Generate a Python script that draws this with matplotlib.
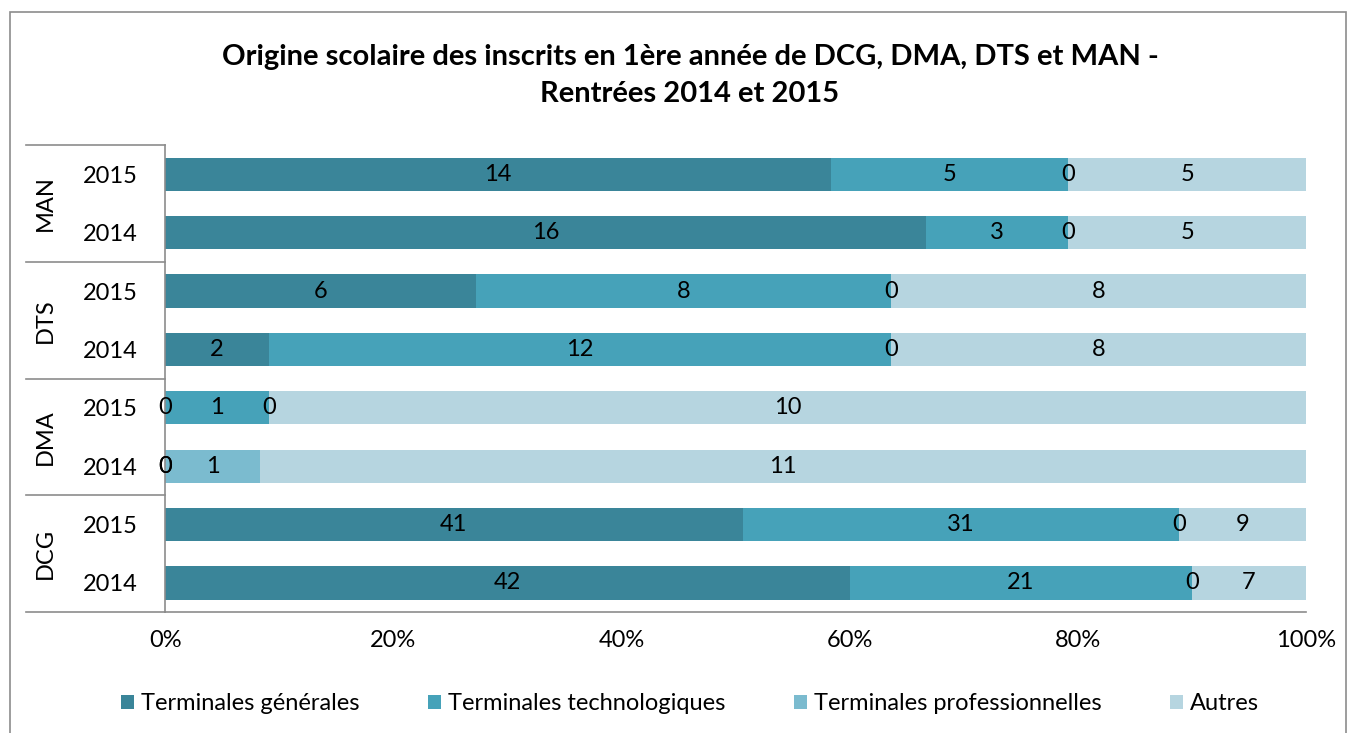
import matplotlib.pyplot as plt
from matplotlib.patches import Rectangle
import numpy as np

plt.rcParams['font.family'] = ['Lato', 'DejaVu Sans']

groups = ['DCG', 'DMA', 'DTS', 'MAN']
years = ['2014', '2015']
series = ['Terminales générales', 'Terminales technologiques',
          'Terminales professionnelles', 'Autres']
# rows: DCG 2014, DCG 2015, DMA 2014, DMA 2015, DTS 2014, DTS 2015, MAN 2014, MAN 2015
generales = [42, 41, 0, 0, 2, 6, 16, 14]
technologiques = [21, 31, 0, 1, 12, 8, 3, 5]
professionnelles = [0, 0, 1, 0, 0, 0, 0, 0]
autres = [7, 9, 11, 10, 8, 8, 5, 5]
colors = ['#3a8599', '#46a2b9', '#7bbbcf', '#b6d5e0']

fig = plt.figure(figsize=(13.53, 7.33), dpi=100)
ax = fig.add_axes([0.122, 0.165, 0.8433, 0.637])

data = np.array([generales, technologiques, professionnelles, autres], dtype=float)
totals = data.sum(axis=0)
y = np.arange(len(generales))
left = np.zeros(len(y))
for vals, name, c in zip(data, series, colors):
    frac = vals / totals
    ax.barh(y, frac, left=left, height=0.57, color=c, label=name)
    for yi, (l, f, v) in enumerate(zip(left, frac, vals)):
        ax.text(l + f / 2, yi, f'{int(v)}', ha='center', va='center',
                fontsize=17, color='black')
    left = left + frac

ax.set_xlim(0, 1)
ax.set_ylim(-0.5, len(y) - 0.5)
ax.set_xticks([0, 0.2, 0.4, 0.6, 0.8, 1.0])
ax.set_xticklabels(['0%', '20%', '40%', '60%', '80%', '100%'], fontsize=17)
ax.tick_params(axis='x', length=0, pad=13)
ax.set_yticks(y)
ax.set_yticklabels(years * len(groups), fontsize=17)
ax.tick_params(axis='y', length=0, pad=20)
for s in ['top', 'right']:
    ax.spines[s].set_visible(False)
for s in ['left', 'bottom']:
    ax.spines[s].set_color('#8c8c8c')
    ax.spines[s].set_linewidth(1.2)

# group labels and separators
for i, g in enumerate(groups):
    ax.text(-0.105, 2 * i + 0.5, g, rotation=90, ha='center', va='center',
            fontsize=17, transform=ax.get_yaxis_transform())
for k in range(len(groups) + 1):
    ax.plot([-0.122, 0], [2 * k - 0.5] * 2, color='#8c8c8c', lw=1.2,
            transform=ax.get_yaxis_transform(), clip_on=False)

fig.text(0.51, 0.897, 'Origine scolaire des inscrits en 1ère année de DCG, DMA, DTS et MAN -\nRentrées 2014 et 2015',
         ha='center', va='center', fontsize=21, fontweight='bold', linespacing=1.55)

ax.legend(loc='center', bbox_to_anchor=(0.51, 0.04), bbox_transform=fig.transFigure,
          ncol=4, frameon=False, fontsize=17, handlelength=0.55, handleheight=0.55,
          handletextpad=0.3, columnspacing=2.9)

fig.patches.append(Rectangle((0.0075, -0.01), 0.987, 0.993, transform=fig.transFigure,
                             fill=False, edgecolor='#8c8c8c', lw=1.2))

fig.savefig('out.png', dpi=100)
